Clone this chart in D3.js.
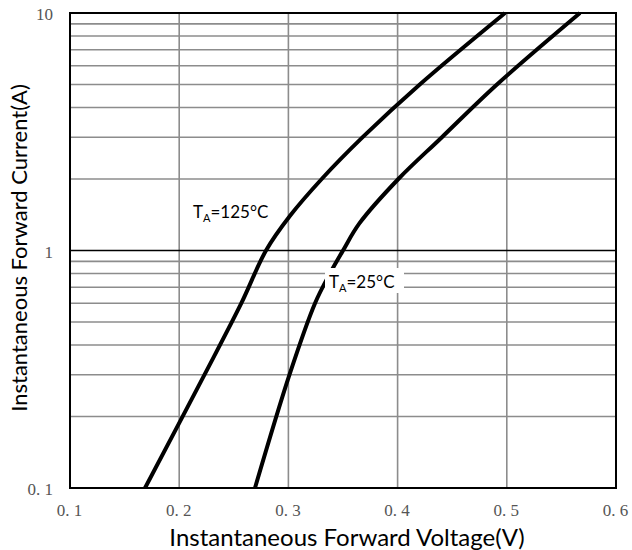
<!DOCTYPE html>
<html>
<head>
<meta charset="utf-8">
<script src="https://cdn.jsdelivr.net/npm/d3@7"></script>
<style>
  body { margin: 0; background: #fff; }
</style>
</head>
<body>
<script>
// forward current (A) vs voltage (V)
var current125 = [0.1, 0.3, 0.6, 1, 1.4, 2, 3, 5, 10];
var voltage125 = [0.1687, 0.2232, 0.2569, 0.2795, 0.3015, 0.3305, 0.368, 0.4203, 0.4984];

var current25 = [0.1, 0.3, 0.6, 0.8, 1, 1.3, 2, 3, 5, 10];
var voltage25 = [0.2694, 0.301, 0.3244, 0.338, 0.350, 0.365, 0.4007, 0.4406, 0.491, 0.567];

var xTicks = [0.1, 0.2, 0.3, 0.4, 0.5, 0.6];
var xTickLabels = ["0. 1", "0. 2", "0. 3", "0. 4", "0. 5", "0. 6"];
var yTicks = [0.1, 1, 10];
var yTickLabels = ["0. 1", "1", "10"];
var yMinor = [0.2, 0.3, 0.4, 0.5, 0.6, 0.7, 0.8, 0.9, 2, 3, 4, 5, 6, 7, 8, 9];

var width = 632;
var height = 550;
var plotLeft = 70, plotRight = 616, plotTop = 13, plotBottom = 488;

var x = d3.scaleLinear().domain([0.1, 0.6]).range([plotLeft, plotRight]);
var y = d3.scaleLog().domain([0.1, 10]).range([plotBottom, plotTop]);

var svg = d3.select("body").append("svg")
    .attr("width", width)
    .attr("height", height);

// grid
svg.append("g")
    .selectAll("line")
    .data(yMinor)
    .enter()
    .append("line")
    .attr("x1", plotLeft).attr("x2", plotRight)
    .attr("y1", function(d) { return y(d); })
    .attr("y2", function(d) { return y(d); })
    .attr("stroke", "#8c8c8c")
    .attr("stroke-width", 1.6);

svg.append("g")
    .selectAll("line")
    .data(xTicks.slice(1, -1))
    .enter()
    .append("line")
    .attr("y1", plotTop).attr("y2", plotBottom)
    .attr("x1", function(d) { return x(d); })
    .attr("x2", function(d) { return x(d); })
    .attr("stroke", "#8c8c8c")
    .attr("stroke-width", 1.6);

svg.append("line")
    .attr("x1", plotLeft).attr("x2", plotRight)
    .attr("y1", y(1)).attr("y2", y(1))
    .attr("stroke", "#000")
    .attr("stroke-width", 1.6);

// axes (labels only, the frame is drawn as a rect)
var xAxis = d3.axisBottom(x)
    .tickValues(xTicks)
    .tickSize(0)
    .tickPadding(0)
    .tickFormat(function(d, i) { return xTickLabels[i]; });

var yAxis = d3.axisLeft(y)
    .tickValues(yTicks)
    .tickSize(0)
    .tickPadding(17)
    .tickFormat(function(d, i) { return yTickLabels[i]; });

var gx = svg.append("g")
    .attr("transform", "translate(-1," + (plotBottom + 16) + ")")
    .call(xAxis);
var gy = svg.append("g")
    .attr("transform", "translate(" + plotLeft + ",1)")
    .call(yAxis);

[gx, gy].forEach(function(g) {
    g.select(".domain").remove();
    g.selectAll("text")
        .style("font-family", "'Liberation Serif', 'DejaVu Serif', serif")
        .style("font-size", "17px")
        .attr("fill", "#555");
});
gy.selectAll("text").attr("dy", "0.35em");

// curves
var line = d3.line()
    .x(function(d) { return x(d[0]); })
    .y(function(d) { return y(d[1]); })
    .curve(d3.curveCatmullRom.alpha(0.5));

svg.append("path")
    .datum(d3.zip(voltage125, current125))
    .attr("d", line)
    .attr("fill", "none")
    .attr("stroke", "#000")
    .attr("stroke-width", 4);

svg.append("path")
    .datum(d3.zip(voltage25, current25))
    .attr("d", line)
    .attr("fill", "none")
    .attr("stroke", "#000")
    .attr("stroke-width", 4);

// frame
svg.append("rect")
    .attr("x", plotLeft).attr("y", plotTop)
    .attr("width", plotRight - plotLeft).attr("height", plotBottom - plotTop)
    .attr("fill", "none")
    .attr("stroke", "#000")
    .attr("stroke-width", 2);

// curve labels
function tempLabel(px, py, temp) {
    var t = svg.append("text")
        .attr("x", px).attr("y", py)
        .style("font-family", "Lato, 'Open Sans', sans-serif")
        .style("font-size", "17px")
        .attr("fill", "#000");
    t.append("tspan").text("T");
    t.append("tspan").attr("dy", 4).style("font-size", "11px").text("A");
    t.append("tspan").attr("dy", -4).text("=" + temp + "\u00b0C");
    return t;
}

svg.append("rect")
    .attr("x", 325).attr("y", 268)
    .attr("width", 79).attr("height", 25)
    .attr("fill", "#fff");

tempLabel(193, 218, 125);
tempLabel(329, 288, 25);

// axis titles
svg.append("text")
    .attr("x", 347).attr("y", 546)
    .attr("text-anchor", "middle")
    .style("font-family", "Lato, 'Open Sans', sans-serif")
    .style("font-size", "24px")
    .text("Instantaneous Forward Voltage(V)");

svg.append("text")
    .attr("transform", "translate(27,248) rotate(-90)")
    .attr("text-anchor", "middle")
    .style("font-family", "Lato, 'Open Sans', sans-serif")
    .style("font-size", "22px")
    .text("Instantaneous Forward Current(A)");
</script>
</body>
</html>
